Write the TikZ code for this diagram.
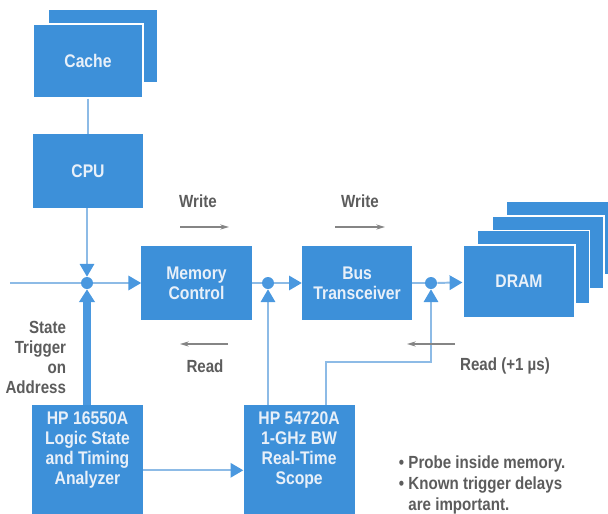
\documentclass[tikz,border=0pt]{standalone}
\usepackage{fontspec}
\setmainfont{Liberation Sans}[FakeStretch=0.86]
\usetikzlibrary{arrows.meta, positioning}
\definecolor{boxblue}{HTML}{3D90D9}
\definecolor{boxtxt}{HTML}{E8F0F9}
\definecolor{linkblue}{HTML}{8DBBE6}
\definecolor{dotblue}{HTML}{4A98DF}
\definecolor{labelgray}{HTML}{5C5C5C}

\begin{document}
\begin{tikzpicture}[x=0.025cm, y=-0.025cm,
        unit/.style={rectangle, fill=boxblue, minimum width=2.75cm, minimum height=1.85cm, inner sep=0pt, text=boxtxt, font=\bfseries\fontsize{13}{14.2}\selectfont, align=center},
        stack/.style={unit, draw=white, line width=0.8pt},
        probe/.style={unit, minimum width=2.775cm, minimum height=3.25cm, anchor=north},
        boxtext/.style={text=boxtxt, font=\bfseries\fontsize{13}{14.2}\selectfont, align=center, anchor=north, yshift=-0.05cm},
        junction/.style={circle, fill=dotblue, minimum size=0.3cm, inner sep=0pt},
        link/.style={draw=linkblue, line width=1.4pt},
        into/.style={link, -{Triangle[width=0.36cm, length=0.32cm, color=dotblue]}},
        trigger/.style={draw=dotblue, line width=5pt, -{Triangle[width=0.38cm, length=0.32cm]}},
        dir/.style={draw=labelgray!75, line width=0.9pt, -{Stealth[length=0.22cm, width=0.13cm]}},
        note/.style={text=labelgray, font=\bfseries\fontsize{12.5}{14.2}\selectfont},
    ]
\useasboundingbox (0,0) rectangle (608,514);
\clip (0,0) rectangle (608,514);

\node[stack] (CacheBack) at (103,46) {};
\node[stack] (Cache) at (88,61) {Cache};
\node[unit, below=0.875cm of Cache] (CPU) {CPU};
\draw[link] (Cache) -- (CPU);

\node[unit] (MemoryControl) at (196.5,283) {Memory\\Control};
\node[unit, right=1.25cm of MemoryControl] (BusTransceiver) {Bus\\Transceiver};
\foreach \k in {3,2,1}
    \node[stack, minimum width=2.8cm, minimum height=1.825cm] (DRAM\k) at (519+14.5*\k, 281.5-14.5*\k) {};
\node[stack, minimum width=2.8cm, minimum height=1.825cm] (DRAM) at (519,281.5) {DRAM};

\node[probe, label={[boxtext]north:HP 16550A\\Logic State\\and Timing\\Analyzer}] (Analyzer) at (87.5,405) {};
\node[probe, right=2.5cm of Analyzer, label={[boxtext]north:HP 54720A\\1-GHz BW\\Real-Time\\Scope}] (Scope) {};

\coordinate (Entry) at (10,283);
\node[junction] (J1) at (87,283) {};
\node[junction] (J2) at (268,283) {};
\node[junction] (J3) at (431,283) {};
\draw[link] (Entry) -- (J1);
\draw[into] (J1) -- (MemoryControl);
\draw[link] (MemoryControl) -- (J2);
\draw[into] (J2) -- (BusTransceiver);
\draw[link] (BusTransceiver) -- (J3);
\draw[into] (J3) -- (DRAM);
\draw[into] (CPU.south -| J1) -- (J1);
\draw[trigger] (Analyzer.north -| J1) -- (J1);
\draw[into] (Scope.north -| J2) -- (J2);
\coordinate (Bend) at (326,362);
\draw[into] (Scope.north -| Bend) -- (Bend) -| (J3);
\draw[into] (Analyzer) -- (Scope);

\node[note] (WriteMC) at (198,201) {Write};
\coordinate (WriteMCa) at (180,227);
\coordinate (WriteMCb) at (229,227);
\draw[dir] (WriteMCa) -- (WriteMCb);
\node[note] (WriteBus) at (360,201) {Write};
\coordinate (WriteBusa) at (335,227);
\coordinate (WriteBusb) at (385,227);
\draw[dir] (WriteBusa) -- (WriteBusb);
\node[note] (ReadMC) at (205,366) {Read};
\coordinate (ReadMCa) at (228,344);
\coordinate (ReadMCb) at (180,344);
\draw[dir] (ReadMCa) -- (ReadMCb);
\node[note] (ReadDRAM) at (505,366) {Read (+1 µs)};
\coordinate (ReadDRAMa) at (455,344);
\coordinate (ReadDRAMb) at (407,344);
\draw[dir] (ReadDRAMa) -- (ReadDRAMb);

\node[note, align=right, anchor=east] (TriggerNote) at (71,357) {State\\Trigger\\on\\Address};
\node[note, align=left, anchor=north west, font=\bfseries\fontsize{12.5}{15}\selectfont] (Notes) at (394,451) {\textbullet\ Probe inside memory.\\\textbullet\ Known trigger delays\\\hphantom{\textbullet\ }are important.};
\end{tikzpicture}
\end{document}
